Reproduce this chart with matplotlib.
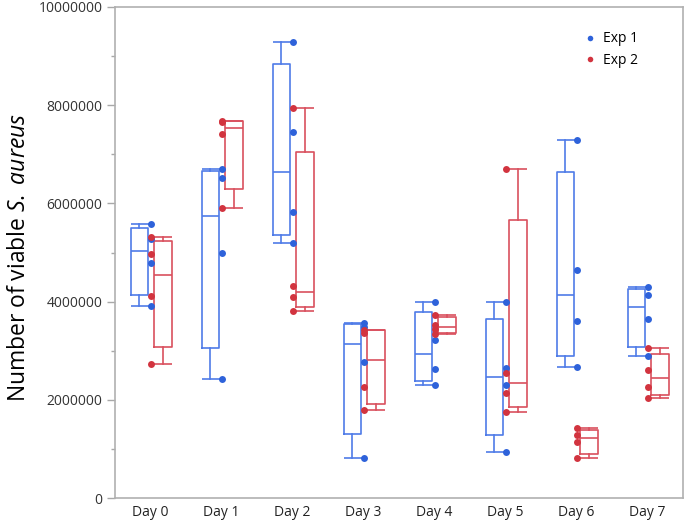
import numpy as np
import matplotlib
matplotlib.use("Agg")
import matplotlib.pyplot as plt

days = ["Day 0", "Day 1", "Day 2", "Day 3", "Day 4", "Day 5", "Day 6", "Day 7"]
series_names = ["Exp 1", "Exp 2"]

exp1 = [
    [3.92e6, 4.78e6, 5.28e6, 5.58e6],
    [2.42e6, 4.99e6, 6.51e6, 6.70e6],
    [5.20e6, 5.82e6, 7.46e6, 9.29e6],
    [0.82e6, 2.78e6, 3.48e6, 3.57e6],
    [2.30e6, 2.63e6, 3.22e6, 3.99e6],
    [0.94e6, 2.30e6, 2.64e6, 3.99e6],
    [2.66e6, 3.61e6, 4.64e6, 7.30e6],
    [2.89e6, 3.65e6, 4.13e6, 4.29e6],
]
exp2 = [
    [2.72e6, 4.12e6, 4.97e6, 5.31e6],
    [5.91e6, 7.41e6, 7.65e6, 7.68e6],
    [3.81e6, 4.09e6, 4.32e6, 7.95e6],
    [1.80e6, 2.27e6, 3.36e6, 3.43e6],
    [3.34e6, 3.44e6, 3.52e6, 3.73e6],
    [1.75e6, 2.13e6, 2.54e6, 6.71e6],
    [0.81e6, 1.15e6, 1.28e6, 1.42e6],
    [2.03e6, 2.27e6, 2.61e6, 3.05e6],
]
y_ticks = [0, 2000000, 4000000, 6000000, 8000000, 10000000]

plt.rcParams['font.family'] = ['Open Sans', 'DejaVu Sans']
plt.rcParams['mathtext.fontset'] = 'custom'
plt.rcParams['mathtext.rm'] = 'Open Sans'
plt.rcParams['mathtext.it'] = 'Open Sans:italic'

W, H = 685, 520
fig = plt.figure(figsize=(W / 100, H / 100), dpi=100)
ax = fig.add_axes([115 / W, 1 - 498 / H, (683 - 115) / W, (498 - 7) / H])

box_cols = ['#4F7BE8', '#D9505E']
dot_cols = ['#2E62DA', '#D2343F']
offsets = [-0.155, 0.18]
bw = 0.25

def stats_for(groups):
    out = []
    for g in groups:
        a = np.asarray(g, dtype=float)
        q1, med, q3 = np.percentile(a, [25, 50, 75], method='weibull')
        out.append(dict(med=med, q1=q1, q3=q3, whislo=a.min(), whishi=a.max(), fliers=[]))
    return out

x = np.arange(len(days))
for k, (data, off) in enumerate(zip([exp1, exp2], offsets)):
    st = stats_for(data)
    col = box_cols[k]
    lp = dict(color=col, linewidth=1.2)
    ax.bxp(st, positions=x + off, widths=bw, showcaps=False, showfliers=False,
           boxprops=lp, whiskerprops=lp, medianprops=lp, manage_ticks=False, zorder=2)
    lo = np.array([s['whislo'] for s in st])
    hi = np.array([s['whishi'] for s in st])
    if k == 0:
        xmin, xmax = x + off - bw / 2, x.astype(float)
    else:
        xmin, xmax = x.astype(float), x + off + bw / 2
    for yy in (lo, hi):
        ax.hlines(yy, xmin, xmax, colors=col, linewidth=1.2, zorder=2)

for k, data in enumerate([exp1, exp2]):
    for i, g in enumerate(data):
        ax.plot(np.full(len(g), x[i]), g, 'o', color=dot_cols[k], markersize=5,
                markeredgewidth=0, zorder=3 + k,
                label=series_names[k] if i == 0 else None)

ax.set_xlim(-0.5, len(days) - 0.5)
ax.set_ylim(0, 10000000)
ax.set_xticks(x)
ax.set_xticklabels(days)
ax.set_yticks(y_ticks)
ax.set_yticklabels([str(v) for v in y_ticks])
ax.set_yticks(np.arange(1000000, 10000000, 2000000), minor=True)
ax.tick_params(axis='y', which='major', length=6, width=1, color='#A8A8A8',
               labelsize=10, labelcolor='#333333', pad=3)
ax.tick_params(axis='y', which='minor', length=3, width=1, color='#A8A8A8')
ax.tick_params(axis='x', length=0, labelsize=10, labelcolor='#222222', pad=5)
for s in ax.spines.values():
    s.set_color('#B0B0B0')
    s.set_linewidth(1.2)

ax.set_ylabel(r'Number of viable $\it{S.}$ $\it{aureus}$', fontsize=16.5, color='#000000')
ax.yaxis.set_label_coords(-0.148, 0.489)

ax.legend(loc='upper left', bbox_to_anchor=(0.81, 0.97), frameon=False,
          handlelength=0.8, handletextpad=0.5, labelspacing=0.45, fontsize=10,
          borderpad=0.2, markerscale=0.8)

fig.savefig('out.png', dpi=100)
